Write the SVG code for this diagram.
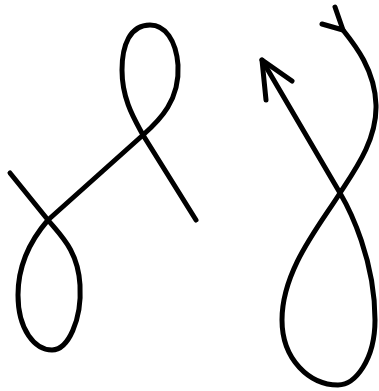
<svg xmlns="http://www.w3.org/2000/svg" width="379" height="391" viewBox="0 0 379 391">
<style>.s{fill:none;stroke:#000;stroke-width:5;stroke-linecap:round;stroke-linejoin:round}</style>
<rect width="379" height="391" fill="#fff"/>
<path class="s" d="M10,173 L48,220 C60,235 78,250 80,285 C82,320 68,350 52,350 C35,350 18,330 18,295 C18,260 35,235 48,220 L143,135 C160,120 180,100 178,65 C176,40 165,25 150,25 C130,25 122,45 122,70 C122,100 135,120 143,135 L196,220"/>
<path class="s" d="M262,60 L340,193 C350,210 375,260 375,320 C375,360 355,385 338,385 C310,385 282,360 282,320 C282,270 320,225 340,193 C355,170 377,140 376,105 C375,70 355,45 343,30"/>
<path class="s" d="M266,100 L262,60 L292,81 M335,7 L343,30 L322,24"/>
</svg>
